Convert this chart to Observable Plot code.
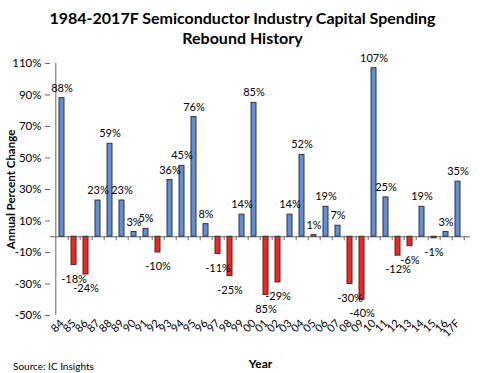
<!DOCTYPE html>
<html>
<head>
<meta charset="utf-8">
<script src="https://cdn.jsdelivr.net/npm/d3@7"></script>
<script src="https://cdn.jsdelivr.net/npm/@observablehq/plot@0.6"></script>
<style>
  body { margin: 0; background: #fff; font-family: Lato, "Open Sans", sans-serif; }
  #wrap { position: relative; width: 485px; height: 373px; overflow: hidden; }
  #title { height: 50px; text-align: center; font-weight: bold; font-size: 16px; line-height: 20px; padding-top: 8px; box-sizing: border-box; color: #000; }
  #source { position: absolute; left: 13px; top: 360px; font-size: 10px; color: #000; }
</style>
</head>
<body>
<div id="wrap">
  <div id="title">1984-2017F Semiconductor Industry Capital Spending<br>Rebound History</div>
  <div id="chart"></div>
  <div id="source">Source: IC Insights</div>
</div>
<script>
const years = ["84","85","86","87","88","89","90","91","92","93","94","95","96","97","98","99","00","01","02","03","04","05","06","07","08","09","10","11","12","13","14","15","16","17F"];
const changes = [88,-18,-24,23,59,23,3,5,-10,36,45,76,8,-11,-25,14,85,-37,-29,14,52,1,19,7,-30,-40,107,25,-12,-6,19,-1,3,35];
const labels = ["88%","-18%","-24%","23%","59%","23%","3%","5%","-10%","36%","45%","76%","8%","-11%","-25%","14%","85%","85%","-29%","14%","52%","1%","19%","7%","-30%","-40%","107%","25%","-12%","-6%","19%","-1%","3%","35%"];
const yTicks = [-50,-30,-10,10,30,50,70,90,110];

const data = years.map((y, i) => ({year: y, value: changes[i], label: labels[i]}));

const chart = Plot.plot({
  width: 485,
  height: 323,
  marginLeft: 50,
  marginRight: 15,
  marginTop: 13,
  marginBottom: 58,
  style: {fontFamily: "Lato, 'Open Sans', sans-serif", fontSize: "11px", color: "#000"},
  x: {domain: years, paddingInner: 0.55, paddingOuter: 0.275, label: null},
  y: {domain: [-50, 110], label: null},
  marks: [
    Plot.axisY({ticks: yTicks, tickFormat: d => d + "%", tickSize: 5, tickPadding: 4, fontSize: 11.5, stroke: "#666", label: null}),
    Plot.axisX({tickSize: 0, tickPadding: 6, tickRotate: -45, fontSize: 11, label: null}),
    Plot.text(["Year"], {frameAnchor: "bottom", dy: 52, fontWeight: "bold", fontSize: 12}),
    Plot.text(["Annual Percent Change"], {frameAnchor: "left", textAnchor: "middle", rotate: -90, dx: -39, fontWeight: "bold", fontSize: 11.5}),
    Plot.ruleX([0], {x: () => years[0], y1: -50, y2: 110, dx: -6.18, stroke: "#666"}),
    Plot.ruleX(years, {x: d => d, y1: 0, y2: 0, insetBottom: -4, dx: 6.18, stroke: "#666"}),
    Plot.ruleY([0], {stroke: "#666"}),
    Plot.barY(data, {x: "year", y: "value", fill: d => d.value >= 0 ? "#5f8fd8" : "#ff2020", stroke: "#333", strokeWidth: 1}),
    Plot.text(data.filter(d => d.value >= 0), {x: "year", y: "value", text: "label", dy: -10, fontSize: 11, fill: "#000"}),
    Plot.text(data.filter(d => d.value < 0), {x: "year", y: "value", text: "label", dy: 14, fontSize: 11, fill: "#000"})
  ]
});
document.getElementById("chart").appendChild(chart);
</script>
</body>
</html>
